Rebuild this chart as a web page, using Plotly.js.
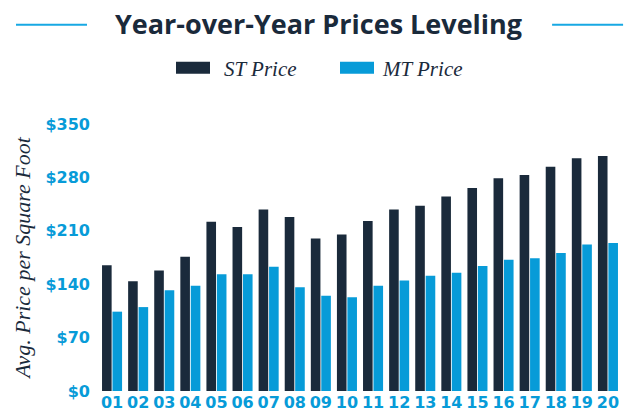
<!DOCTYPE html>
<html>
<head>
<meta charset="utf-8">
<script src="https://cdn.plot.ly/plotly-3.0.1.min.js"></script>
<style>
html, body { margin: 0; padding: 0; background: #ffffff; }
#chart { width: 637px; height: 415px; }
</style>
</head>
<body>
<div id="chart"></div>
<script>
// Data
var years = ['01','02','03','04','05','06','07','08','09','10','11','12','13','14','15','16','17','18','19','20'];
var stPrice = [165, 144, 158, 176, 222, 215, 238, 228, 200, 205, 223, 238, 243, 255, 266, 279, 283, 294, 305, 308];
var mtPrice = [104, 110, 132, 138, 153, 153, 163, 136, 125, 123, 138, 145, 151, 155, 164, 172, 174, 181, 192, 194];
var yTicks = [0, 70, 140, 210, 280, 350];
var yTickText = ['$0', '$70', '$140', '$210', '$280', '$350'];

var DARK = '#1a2a3b';
var BLUE = '#079bd8';
var TICKFONT = { family: '"DejaVu Sans", sans-serif', size: 16, color: BLUE, weight: 'bold' };
var SERIF = { family: '"Liberation Serif", serif', size: 21, color: DARK, style: 'italic' };

var traces = [
  { type: 'bar', name: 'ST Price', x: years, y: stPrice, marker: { color: DARK } },
  { type: 'bar', name: 'MT Price', x: years, y: mtPrice, marker: { color: BLUE } }
];

var layout = {
  width: 637, height: 415,
  margin: { l: 99, r: 16, t: 124, b: 24, pad: 0 },
  paper_bgcolor: '#ffffff', plot_bgcolor: '#ffffff',
  barmode: 'group', bargap: 0.2, bargroupgap: 0.08,
  title: {
    text: 'Year-over-Year Prices Leveling',
    font: { family: '"Open Sans", sans-serif', size: 27, color: DARK, weight: 'bold' },
    x: 0.5, xref: 'container', xanchor: 'center',
    y: 1 - 25 / 415, yref: 'container', yanchor: 'middle'
  },
  showlegend: true,
  legend: {
    orientation: 'h', xref: 'container', yref: 'container',
    x: 170 / 637, xanchor: 'left', y: 1 - 68 / 415, yanchor: 'middle',
    font: SERIF,
    entrywidth: 100, entrywidthmode: 'pixels', itemwidth: 44
  },
  xaxis: {
    type: 'category', showgrid: false, zeroline: false, showline: false, ticks: '',
    tickfont: TICKFONT, ticklabelstandoff: 0,
    automargin: false, fixedrange: true
  },
  yaxis: {
    range: [0, 350], showgrid: false, zeroline: false, showline: false, ticks: '',
    tickvals: yTicks, ticktext: yTickText,
    tickfont: TICKFONT,
    ticklabelstandoff: 8,
    title: { text: 'Avg. Price per Square Foot', font: { family: SERIF.family, size: 22, color: DARK, style: 'italic' }, standoff: 8 },
    automargin: true, fixedrange: true
  },
  shapes: [
    { type: 'line', xref: 'paper', yref: 'paper', x0: -0.159, x1: -0.023, y0: 1.372, y1: 1.372,
      line: { color: '#17a8e3', width: 2 } },
    { type: 'line', xref: 'paper', yref: 'paper', x0: 0.868, x1: 1.004, y0: 1.372, y1: 1.372,
      line: { color: '#17a8e3', width: 2 } }
  ]
};

Plotly.newPlot('chart', traces, layout, { displayModeBar: false, staticPlot: true }).then(function (gd) {
  // widen the legend swatches to the long rectangles of the reference
  var swatches = ['M13,6H-21V-6H13Z', 'M18,6H-16V-6H18Z'];
  var paths = gd.querySelectorAll('.legend .legendpoints path');
  paths.forEach(function (p, i) { p.setAttribute('d', swatches[Math.min(i, swatches.length - 1)]); });
});
</script>
</body>
</html>
